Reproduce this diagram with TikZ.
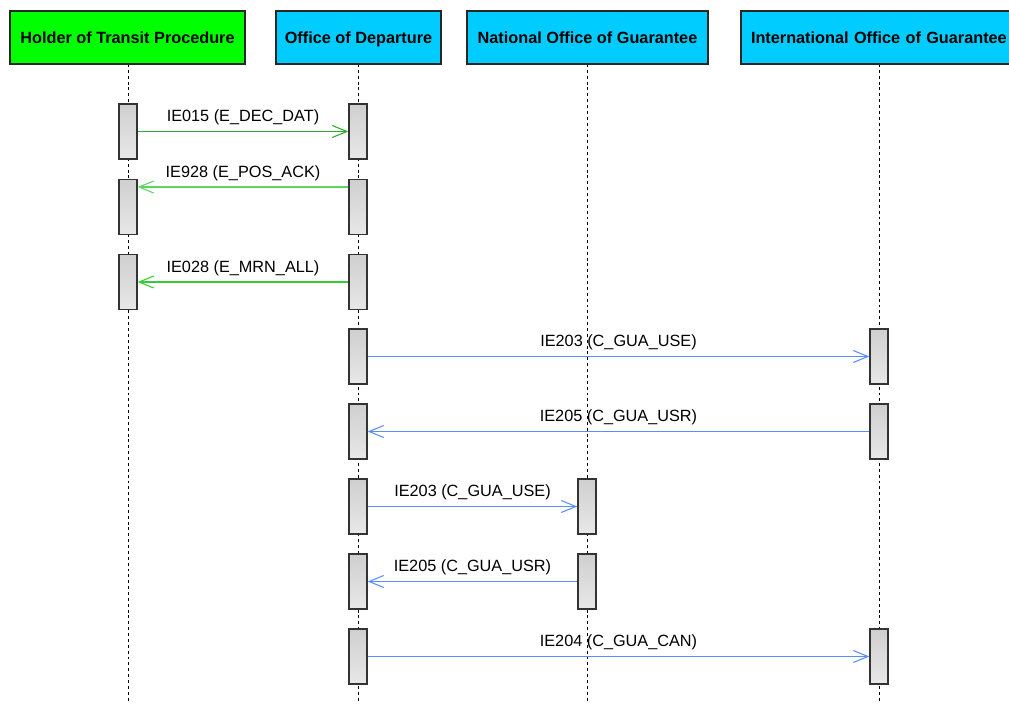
\documentclass[tikz,border=0pt]{standalone}
\usepackage{fontspec}
\setmainfont{Liberation Sans}
\usetikzlibrary{arrows.meta}
\definecolor{hgreen}{HTML}{00FF00}
\definecolor{hcyan}{HTML}{00CCFF}
\definecolor{msggreen}{HTML}{33CC33}
\definecolor{msgblue}{HTML}{5C8DFF}
\definecolor{bartop}{HTML}{CFCFCF}
\definecolor{barbot}{HTML}{E8E8E8}
\definecolor{barline}{HTML}{333333}
\tikzset{
  header/.style={draw=black!85, line width=0.9pt, minimum height=39.75pt, inner sep=0pt, text height=8.7pt, text depth=0pt, font=\fontsize{12.2}{14}\selectfont\bfseries, text=black},
  lifeline/.style={draw=black, line width=0.6pt, dash pattern=on 2.2pt off 2.2pt},
  actbar/.style={draw=barline, line width=1pt, top color=bartop, bottom color=barbot, minimum width=13.5pt, minimum height=41.25pt, inner sep=0pt},
  msg/.style={line width=1.35pt, -{Straight Barb[length=11pt,width=9pt,line width=0.8pt]}},
  msglabel/.style={font=\fontsize{12.2}{14}\selectfont, text=black, inner sep=0pt, anchor=base, yshift=7.5pt},
}
\begin{document}
\begin{tikzpicture}[x=0.75pt,y=-0.75pt]
\useasboundingbox (0,0) rectangle (1009,703);
\begin{scope}
\clip (0,0) rectangle (1009,703);
% lifelines
\coordinate (hTop) at (128,64); \coordinate (hBot) at (128,703);
\coordinate (dTop) at (358,64); \coordinate (dBot) at (358,703);
\coordinate (nTop) at (587,64); \coordinate (nBot) at (587,703);
\coordinate (iTop) at (879,64); \coordinate (iBot) at (879,703);
\draw[lifeline] (hTop) -- (hBot);
\draw[lifeline] (dTop) -- (dBot);
\draw[lifeline] (nTop) -- (nBot);
\draw[lifeline] (iTop) -- (iBot);
% headers
\node[header, fill=hgreen, minimum width=176.25pt] (holder) at (127.5,37.5) {Holder of Transit Procedure};
\node[header, fill=hcyan, minimum width=123.75pt] (dep) at (358.5,37.5) {Office of Departure};
\node[header, fill=hcyan, minimum width=180.75pt] (nat) at (587.5,37.5) {National Office of Guarantee};
\node[header, fill=hcyan, minimum width=205.5pt, text width=205.5pt, align=left] (int) at (878,37.5) {\hspace*{7.5pt}International Office of Guarantee};
% activation bars
\node[actbar] (h1) at (128,131.5) {};
\node[actbar] (h2) at (128,207) {};
\node[actbar] (h3) at (128,282) {};
\node[actbar] (d1) at (358,131.5) {};
\node[actbar] (d2) at (358,207) {};
\node[actbar] (d3) at (358,282) {};
\node[actbar] (d4) at (358,356.5) {};
\node[actbar] (d5) at (358,431.5) {};
\node[actbar] (d6) at (358,506.5) {};
\node[actbar] (d7) at (358,581.5) {};
\node[actbar] (d8) at (358,656.5) {};
\node[actbar] (i1) at (879,356.5) {};
\node[actbar] (i2) at (879,431.5) {};
\node[actbar] (i3) at (879,656.5) {};
\node[actbar] (n1) at (587,506.5) {};
\node[actbar] (n2) at (587,581.5) {};
% messages
\draw[msg, draw=msggreen!85!black] (h1.east) -- (d1.west)
  node[msglabel, midway] {IE015 (E\_DEC\_DAT)};
\draw[msg, draw=msggreen!80] ([yshift=15pt]d2.west) -- ([yshift=15pt]h2.east)
  node[msglabel, midway] {IE928 (E\_POS\_ACK)};
\draw[msg, draw=msggreen] (d3.west) -- (h3.east)
  node[msglabel, midway] {IE028 (E\_MRN\_ALL)};
\draw[msg, draw=msgblue] (d4.east) -- (i1.west)
  node[msglabel, midway] {IE203 (C\_GUA\_USE)};
\draw[msg, draw=msgblue] (i2.west) -- (d5.east)
  node[msglabel, midway] {IE205 (C\_GUA\_USR)};
\draw[msg, draw=msgblue] (d6.east) -- (n1.west)
  node[msglabel, midway] {IE203 (C\_GUA\_USE)};
\draw[msg, draw=msgblue] (n2.west) -- (d7.east)
  node[msglabel, midway] {IE205 (C\_GUA\_USR)};
\draw[msg, draw=msgblue] (d8.east) -- (i3.west)
  node[msglabel, midway] {IE204 (C\_GUA\_CAN)};
\end{scope}
\end{tikzpicture}
\end{document}
